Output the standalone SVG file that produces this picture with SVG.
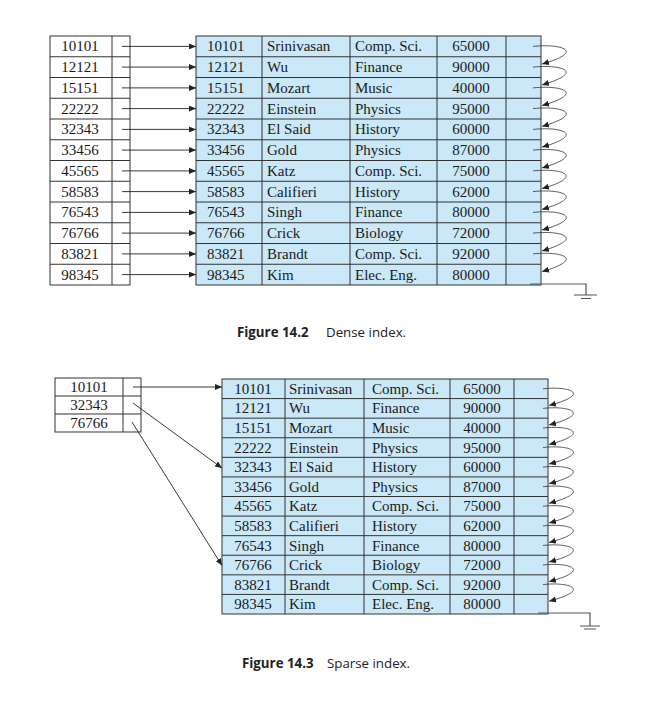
<svg xmlns="http://www.w3.org/2000/svg" width="657" height="706" viewBox="0 0 657 706">
<style>
.t{font-family:"Liberation Serif","Times New Roman",serif;font-size:15px;fill:#1a1a1a}
.m{text-anchor:middle}
.idx{fill:#fff;stroke:#333;stroke-width:1}
.tbl{fill:#cbe8f8;stroke:#333;stroke-width:1}
.ln{stroke:#333;stroke-width:1;fill:none}
.ar{stroke:#222;stroke-width:0.9;fill:none;marker-end:url(#ah)}
.ch{stroke:#333;stroke-width:0.8;fill:none;marker-end:url(#ah)}
.gd{stroke:#555;stroke-width:1.2;fill:none}
.cap{font-family:"Open Sans","Liberation Sans",sans-serif;font-size:13.3px;fill:#222}
.b{font-weight:bold}
</style>
<defs>
<marker id="ah" markerWidth="7" markerHeight="6" refX="7" refY="3" orient="auto" markerUnits="userSpaceOnUse"><path d="M0,0 L7,3 L0,6 z" fill="#222"/></marker>
</defs>
<rect width="657" height="706" fill="#fff"/>

<!-- Figure 14.2 dense index -->
<g id="dense-index">
<rect class="idx" x="50" y="36" width="80" height="249"/>
<path class="ln" d="M112,36V285 M50,56.75H130 M50,77.5H130 M50,98.25H130 M50,119H130 M50,139.75H130 M50,160.5H130 M50,181.25H130 M50,202H130 M50,222.75H130 M50,243.5H130 M50,264.25H130"/>
<g class="t m">
<text x="80" y="51.4">10101</text><text x="80" y="72.1">12121</text><text x="80" y="92.9">15151</text><text x="80" y="113.6">22222</text><text x="80" y="134.4">32343</text><text x="80" y="155.1">33456</text><text x="80" y="175.9">45565</text><text x="80" y="196.6">58583</text><text x="80" y="217.4">76543</text><text x="80" y="238.1">76766</text><text x="80" y="258.9">83821</text><text x="80" y="279.6">98345</text>
</g>
</g>
<g id="dense-file">
<rect class="tbl" x="196" y="36" width="345" height="249"/>
<path class="ln" d="M262,36V285 M350,36V285 M437,36V285 M506,36V285 M196,56.75H541 M196,77.5H541 M196,98.25H541 M196,119H541 M196,139.75H541 M196,160.5H541 M196,181.25H541 M196,202H541 M196,222.75H541 M196,243.5H541 M196,264.25H541"/>
<g class="t">
<text x="207" y="51.4">10101</text><text x="267" y="51.4">Srinivasan</text><text x="355" y="51.4">Comp. Sci.</text><text class="m" x="471" y="51.4">65000</text>
<text x="207" y="72.1">12121</text><text x="267" y="72.1">Wu</text><text x="355" y="72.1">Finance</text><text class="m" x="471" y="72.1">90000</text>
<text x="207" y="92.9">15151</text><text x="267" y="92.9">Mozart</text><text x="355" y="92.9">Music</text><text class="m" x="471" y="92.9">40000</text>
<text x="207" y="113.6">22222</text><text x="267" y="113.6">Einstein</text><text x="355" y="113.6">Physics</text><text class="m" x="471" y="113.6">95000</text>
<text x="207" y="134.4">32343</text><text x="267" y="134.4">El Said</text><text x="355" y="134.4">History</text><text class="m" x="471" y="134.4">60000</text>
<text x="207" y="155.1">33456</text><text x="267" y="155.1">Gold</text><text x="355" y="155.1">Physics</text><text class="m" x="471" y="155.1">87000</text>
<text x="207" y="175.9">45565</text><text x="267" y="175.9">Katz</text><text x="355" y="175.9">Comp. Sci.</text><text class="m" x="471" y="175.9">75000</text>
<text x="207" y="196.6">58583</text><text x="267" y="196.6">Califieri</text><text x="355" y="196.6">History</text><text class="m" x="471" y="196.6">62000</text>
<text x="207" y="217.4">76543</text><text x="267" y="217.4">Singh</text><text x="355" y="217.4">Finance</text><text class="m" x="471" y="217.4">80000</text>
<text x="207" y="238.1">76766</text><text x="267" y="238.1">Crick</text><text x="355" y="238.1">Biology</text><text class="m" x="471" y="238.1">72000</text>
<text x="207" y="258.9">83821</text><text x="267" y="258.9">Brandt</text><text x="355" y="258.9">Comp. Sci.</text><text class="m" x="471" y="258.9">92000</text>
<text x="207" y="279.6">98345</text><text x="267" y="279.6">Kim</text><text x="355" y="279.6">Elec. Eng.</text><text class="m" x="471" y="279.6">80000</text>
</g>
</g>
<g id="dense-connectors">
<path class="ar" d="M122,46.4H196"/><path class="ar" d="M122,67.1H196"/><path class="ar" d="M122,87.9H196"/><path class="ar" d="M122,108.6H196"/><path class="ar" d="M122,129.4H196"/><path class="ar" d="M122,150.1H196"/><path class="ar" d="M122,170.9H196"/><path class="ar" d="M122,191.6H196"/><path class="ar" d="M122,212.4H196"/><path class="ar" d="M122,233.1H196"/><path class="ar" d="M122,253.9H196"/><path class="ar" d="M122,274.6H196"/>
<path class="ch" d="M533,46.4C562,43.4 586,51.4 542,64.1"/>
<path class="ch" d="M533,67.1C562,64.1 586,72.1 542,84.9"/>
<path class="ch" d="M533,87.9C562,84.9 586,92.9 542,105.6"/>
<path class="ch" d="M533,108.6C562,105.6 586,113.6 542,126.4"/>
<path class="ch" d="M533,129.4C562,126.4 586,134.4 542,147.1"/>
<path class="ch" d="M533,150.1C562,147.1 586,155.1 542,167.9"/>
<path class="ch" d="M533,170.9C562,167.9 586,175.9 542,188.6"/>
<path class="ch" d="M533,191.6C562,188.6 586,196.6 542,209.4"/>
<path class="ch" d="M533,212.4C562,209.4 586,217.4 542,230.1"/>
<path class="ch" d="M533,233.1C562,230.1 586,238.1 542,250.9"/>
<path class="ch" d="M533,253.9C562,250.9 586,258.9 542,271.6"/>
<path class="gd" d="M530,284H586V295 M574,295H597 M581,298.5H591"/>
</g>
<text class="cap" x="237" y="337"><tspan class="b">Figure 14.2</tspan><tspan x="326">Dense index.</tspan></text>

<!-- Figure 14.3 sparse index -->
<g id="sparse-index">
<rect class="idx" x="55" y="378" width="86" height="54"/>
<path class="ln" d="M123,378V432 M55,396H141 M55,414H141"/>
<g class="t m">
<text x="89" y="392">10101</text><text x="89" y="410">32343</text><text x="89" y="428">76766</text>
</g>
</g>
<g id="sparse-file">
<rect class="tbl" x="222" y="379" width="326" height="235"/>
<path class="ln" d="M285,379V614 M364,379V614 M450,379V614 M514,379V614 M222,398.58H548 M222,418.17H548 M222,437.75H548 M222,457.33H548 M222,476.92H548 M222,496.5H548 M222,516.08H548 M222,535.67H548 M222,555.25H548 M222,574.83H548 M222,594.42H548"/>
<g class="t">
<text class="m" x="253" y="393.8">10101</text><text x="289" y="393.8">Srinivasan</text><text x="372" y="393.8">Comp. Sci.</text><text class="m" x="482" y="393.8">65000</text>
<text class="m" x="253" y="413.4">12121</text><text x="289" y="413.4">Wu</text><text x="372" y="413.4">Finance</text><text class="m" x="482" y="413.4">90000</text>
<text class="m" x="253" y="433">15151</text><text x="289" y="433">Mozart</text><text x="372" y="433">Music</text><text class="m" x="482" y="433">40000</text>
<text class="m" x="253" y="452.5">22222</text><text x="289" y="452.5">Einstein</text><text x="372" y="452.5">Physics</text><text class="m" x="482" y="452.5">95000</text>
<text class="m" x="253" y="472.1">32343</text><text x="289" y="472.1">El Said</text><text x="372" y="472.1">History</text><text class="m" x="482" y="472.1">60000</text>
<text class="m" x="253" y="491.7">33456</text><text x="289" y="491.7">Gold</text><text x="372" y="491.7">Physics</text><text class="m" x="482" y="491.7">87000</text>
<text class="m" x="253" y="511.3">45565</text><text x="289" y="511.3">Katz</text><text x="372" y="511.3">Comp. Sci.</text><text class="m" x="482" y="511.3">75000</text>
<text class="m" x="253" y="530.9">58583</text><text x="289" y="530.9">Califieri</text><text x="372" y="530.9">History</text><text class="m" x="482" y="530.9">62000</text>
<text class="m" x="253" y="550.5">76543</text><text x="289" y="550.5">Singh</text><text x="372" y="550.5">Finance</text><text class="m" x="482" y="550.5">80000</text>
<text class="m" x="253" y="570">76766</text><text x="289" y="570">Crick</text><text x="372" y="570">Biology</text><text class="m" x="482" y="570">72000</text>
<text class="m" x="253" y="589.6">83821</text><text x="289" y="589.6">Brandt</text><text x="372" y="589.6">Comp. Sci.</text><text class="m" x="482" y="589.6">92000</text>
<text class="m" x="253" y="609.2">98345</text><text x="289" y="609.2">Kim</text><text x="372" y="609.2">Elec. Eng.</text><text class="m" x="482" y="609.2">80000</text>
</g>
</g>
<g id="sparse-connectors">
<path class="ar" d="M133,387H222"/>
<path class="ar" d="M133,403L222,468"/>
<path class="ar" d="M132,422L222,565.5"/>
<path class="ch" d="M543,388.8C569,385.8 593,393.8 549,405.4"/>
<path class="ch" d="M543,408.4C569,405.4 593,413.4 549,425"/>
<path class="ch" d="M543,428C569,425 593,433 549,444.5"/>
<path class="ch" d="M543,447.5C569,444.5 593,452.5 549,464.1"/>
<path class="ch" d="M543,467.1C569,464.1 593,472.1 549,483.7"/>
<path class="ch" d="M543,486.7C569,483.7 593,491.7 549,503.3"/>
<path class="ch" d="M543,506.3C569,503.3 593,511.3 549,522.9"/>
<path class="ch" d="M543,525.9C569,522.9 593,530.9 549,542.5"/>
<path class="ch" d="M543,545.5C569,542.5 593,550.5 549,562"/>
<path class="ch" d="M543,565C569,562 593,570 549,581.6"/>
<path class="ch" d="M543,584.6C569,581.6 593,589.6 549,601.2"/>
<path class="gd" d="M538,613H590V626 M580,626H600 M584,629H596"/>
</g>
<text class="cap" x="242" y="668"><tspan class="b">Figure 14.3</tspan><tspan x="327">Sparse index.</tspan></text>
</svg>
